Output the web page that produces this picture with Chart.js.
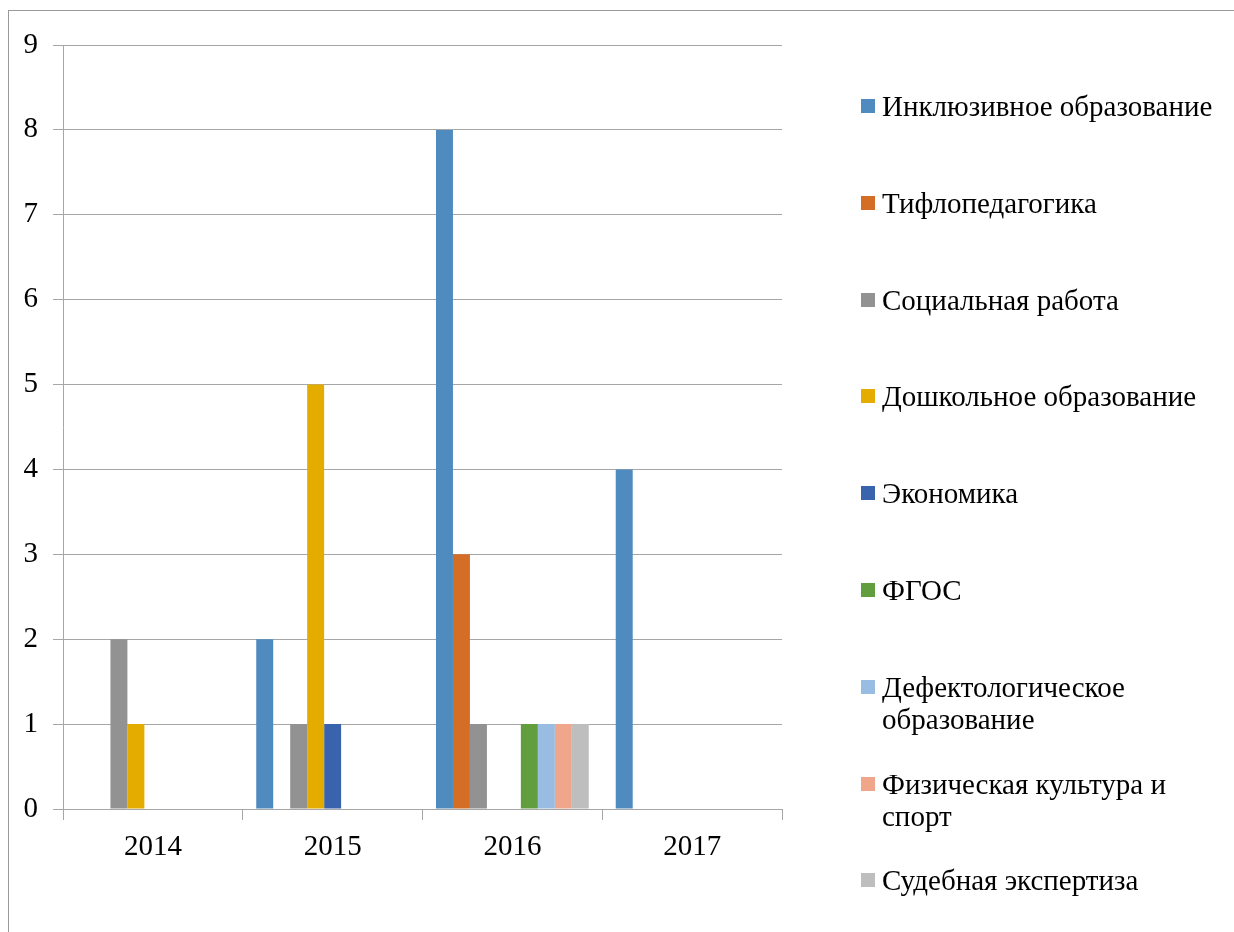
<!DOCTYPE html>
<html>
<head>
<meta charset="utf-8">
<script src="https://cdn.jsdelivr.net/npm/chart.js@4/dist/chart.umd.min.js"></script>
<style>
    body { margin: 0; background: #fff; }
    #wrap { position: relative; width: 1234px; height: 932px; overflow: hidden; }
    #frame { position: absolute; left: 8px; top: 10px; width: 1300px; height: 1000px; border-left: 1px solid #9a9a9a; border-top: 1px solid #9a9a9a; }
    #chart { position: absolute; left: 0; top: 0; }
    #legend { position: absolute; left: 861px; top: 0; font-family: "Liberation Serif", "Times New Roman", serif; font-size: 29px; color: #000; }
    .item { position: absolute; left: 0; width: 370px; line-height: 32px; }
    .box { position: absolute; left: 0; top: 9px; width: 14px; height: 14px; }
    .txt { position: absolute; left: 21px; top: 0; white-space: nowrap; }
</style>
</head>
<body>
<div id="wrap">
    <div id="frame"></div>
    <canvas id="chart" width="1234" height="932"></canvas>
    <div id="legend"></div>
</div>
<script>
const years = ['2014', '2015', '2016', '2017']
const seriesNames = [
    'Инклюзивное образование',
    'Тифлопедагогика',
    'Социальная работа',
    'Дошкольное образование',
    'Экономика',
    'ФГОС',
    ['Дефектологическое', 'образование'],
    ['Физическая культура и', 'спорт'],
    'Судебная экспертиза'
]
const inclusive = [null, 2, 8, 4]
const tiflo = [null, null, 3, null]
const social = [2, 1, 1, null]
const preschool = [1, 5, null, null]
const economics = [null, 1, null, null]
const fgos = [null, null, 1, null]
const defect = [null, null, 1, null]
const sport = [null, null, 1, null]
const forensic = [null, null, 1, null]
const yTicks = [0, 1, 2, 3, 4, 5, 6, 7, 8, 9]

const colors = ['#4f8bbf', '#d46e26', '#929292', '#e5ac00', '#3a63ae', '#629d3e', '#99bce3', '#f0a68a', '#bebebe']
const values = [inclusive, tiflo, social, preschool, economics, fgos, defect, sport, forensic]
const font = { family: '"Liberation Serif", "Times New Roman", serif', size: 29 }

const datasets = values.map((v, i) => ({
    label: [].concat(seriesNames[i]).join(' '),
    data: v,
    backgroundColor: colors[i],
    borderWidth: 0,
    categoryPercentage: 0.85,
    barPercentage: 1.0
}))

new Chart(document.getElementById('chart'), {
    type: 'bar',
    data: { labels: years, datasets: datasets },
    options: {
        responsive: false,
        animation: false,
        layout: { padding: { left: 0, top: 45, right: 452, bottom: 0 } },
        plugins: { legend: { display: false }, tooltip: { enabled: false } },
        scales: {
            x: {
                offset: true,
                grid: { display: true, drawOnChartArea: false, drawTicks: true, tickLength: 11, color: '#a6a6a6', offset: true },
                border: { color: '#a6a6a6' },
                ticks: { font: font, color: '#000', padding: 10 },
                afterFit: s => { s.height = 123 }
            },
            y: {
                min: 0,
                max: 9,
                afterBuildTicks: s => { s.ticks = yTicks.map(v => ({ value: v })) },
                grid: { color: '#a6a6a6', tickLength: 10 },
                border: { color: '#a6a6a6' },
                ticks: { font: font, color: '#000', padding: 15 },
                afterFit: s => { s.width = 63 }
            }
        }
    }
})

// legend built from series names and colours
const legend = document.getElementById('legend')
seriesNames.forEach((name, i) => {
    const item = document.createElement('div')
    item.className = 'item'
    item.style.top = (90 + i * 96.8) + 'px'
    const box = document.createElement('div')
    box.className = 'box'
    box.style.background = colors[i]
    const txt = document.createElement('div')
    txt.className = 'txt'
    txt.innerHTML = [].concat(name).join('<br>')
    item.appendChild(box)
    item.appendChild(txt)
    legend.appendChild(item)
})
</script>
</body>
</html>
